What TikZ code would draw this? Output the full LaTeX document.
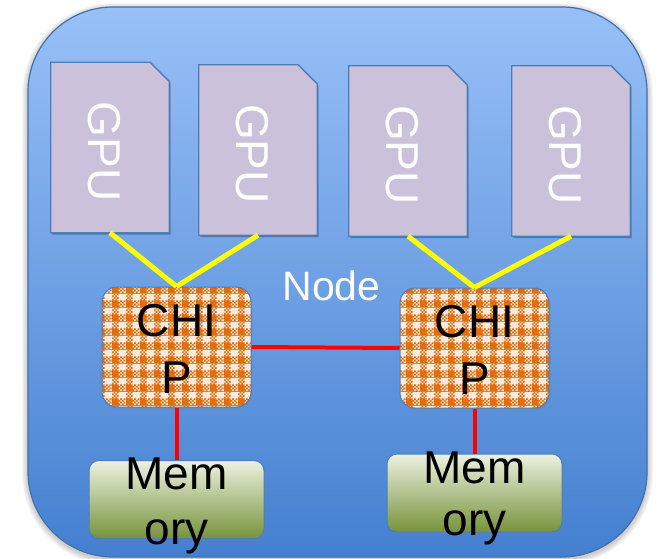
\documentclass[tikz,border=0pt]{standalone}
\usepackage{fontspec}
\setmainfont{Liberation Sans}
\usetikzlibrary{patterns,shadows}

\definecolor{frametop}{RGB}{152,192,247}
\definecolor{framebot}{RGB}{68,128,208}
\definecolor{frameline}{RGB}{66,112,172}
\definecolor{gpufill}{RGB}{204,193,218}
\definecolor{boxline}{RGB}{74,126,187}
\definecolor{chiporange}{RGB}{228,108,10}
\definecolor{chiplight}{RGB}{253,234,218}
\definecolor{memtop}{RGB}{236,241,224}
\definecolor{membot}{RGB}{119,147,60}
\definecolor{linkyellow}{RGB}{255,255,0}
\definecolor{linkred}{RGB}{255,0,0}

% one small check of the half-tone blocks
\newcommand\gsq[2]{\pgfpathrectangle{\pgfqpoint{#1pt}{#2pt}}{\pgfqpoint{1.75pt}{1.75pt}}}

% gingham tile: solid orange block, light block and two blocks of small checks
\pgfdeclarepatterninherentlycolored{gingham}
{\pgfpointorigin}{\pgfqpoint{14pt}{14pt}}{\pgfqpoint{14pt}{14pt}}
{%
  \pgfsetfillcolor{chiplight}%
  \pgfpathrectangle{\pgfpointorigin}{\pgfqpoint{14pt}{14pt}}%
  \pgfusepath{fill}%
  \pgfsetfillcolor{chiporange}%
  \pgfpathrectangle{\pgfpointorigin}{\pgfqpoint{7pt}{7pt}}%
  \gsq{7}{0}\gsq{10.5}{0}\gsq{8.75}{1.75}\gsq{12.25}{1.75}%
  \gsq{7}{3.5}\gsq{10.5}{3.5}\gsq{8.75}{5.25}\gsq{12.25}{5.25}%
  \gsq{0}{7}\gsq{3.5}{7}\gsq{1.75}{8.75}\gsq{5.25}{8.75}%
  \gsq{0}{10.5}\gsq{3.5}{10.5}\gsq{1.75}{12.25}\gsq{5.25}{12.25}%
  \pgfusepath{fill}%
}

\tikzset{
  softshadow/.style={drop shadow={shadow xshift=1.5pt,shadow yshift=-2pt,opacity=.3}},
  framebox/.style={rectangle, rounded corners=85pt, minimum width=619pt,
    minimum height=550pt, top color=frametop, bottom color=framebot,
    draw=frameline, line width=1.2pt},
  gpuslot/.style={rectangle, minimum width=118pt, minimum height=170pt,
    inner sep=0pt},
  gpuoutline/.style={fill=gpufill, draw=boxline, line width=1.3pt},
  gpulabel/.style={rotate=-90, text=white, inner sep=0pt,
    font=\fontsize{46}{55}\selectfont},
  chipbox/.style={rectangle, rounded corners=15pt, minimum width=149pt,
    minimum height=120pt, pattern=gingham, draw=boxline, line width=1pt,
    softshadow},
  membox/.style={rectangle, rounded corners=10pt, minimum width=175pt,
    minimum height=78pt, top color=memtop, bottom color=membot,
    draw=boxline, line width=1pt, softshadow},
  bigtext/.style={anchor=base, inner sep=0pt, text=black,
    font=\fontsize{46}{55}\selectfont},
  nodetext/.style={anchor=base, inner sep=0pt, text=white,
    font=\fontsize{41}{49}\selectfont},
  gpulink/.style={draw=linkyellow, line width=5pt},
  chiplink/.style={draw=linkred, line width=4pt}
}

% GPU card: rectangle with a cut upper right corner, drawn round a named slot
\newcommand\gpucard[1]{%
  \fill[black, opacity=.28]
    ([shift={(1.5pt,-2pt)}]#1.north west) -- ([shift={(-17.5pt,-2pt)}]#1.north east)
    -- ([shift={(1.5pt,-21pt)}]#1.north east) -- ([shift={(1.5pt,-2pt)}]#1.south east)
    -- ([shift={(1.5pt,-2pt)}]#1.south west) -- cycle;
  \filldraw[gpuoutline]
    (#1.north west) -- ([xshift=-19pt]#1.north east)
    -- ([yshift=-19pt]#1.north east) -- (#1.south east)
    -- (#1.south west) -- cycle;
  \node[gpulabel] (#1txt) at ([shift={(-6pt,-4pt)}]#1.center) {GPU};
}

\begin{document}
\begin{tikzpicture}[x=1pt, y=-1pt]
  \useasboundingbox (0,0) rectangle (659,559);

  % soft halo below the outer frame
  \foreach \g in {1,...,6}
    \fill[black, opacity=.035, rounded corners=85pt+\g pt]
      (28-\g, 9-\g) rectangle (647+\g, 559+\g);

  \node[framebox] (frame) at (337.5,282) {};

  % GPU cards
  \node[gpuslot] (g1) at (110,147.5) {};
  \node[gpuslot] (g2) at (258,150) {};
  \node[gpuslot] (g3) at (408,151) {};
  \node[gpuslot] (g4) at (571,151) {};
  \gpucard{g1}
  \gpucard{g2}
  \gpucard{g3}
  \gpucard{g4}

  % chips and memories
  \node[chipbox] (c1) at (176.5,347) {};
  \node[chipbox] (c2) at (474.5,348) {};
  \node[membox] (m1) at (176.5,499.5) {};
  \node[membox] (m2) at (474.5,493) {};

  % links
  \draw[gpulink] (g1.south) -- (c1.north);
  \draw[gpulink] (g2.south) -- (c1.north);
  \draw[gpulink] (g3.south) -- (c2.north);
  \draw[gpulink] (g4.south) -- (c2.north);
  \draw[chiplink] (c1.east) -- (c2.west);
  \draw[chiplink] (c1.south) -- (m1.north);
  \draw[chiplink] (c2.south) -- (m2.north);

  % labels
  \node[nodetext] (nodelabel) at (331.5,300) {Node};
  \node[bigtext] (c1a) at ([yshift=11pt]c1.center) {CHI};
  \node[bigtext] (c1b) at ([yshift=-46pt]c1.center) {P};
  \node[bigtext] (c2a) at ([yshift=11pt]c2.center) {CHI};
  \node[bigtext] (c2b) at ([yshift=-46pt]c2.center) {P};
  \node[bigtext] (m1a) at ([yshift=10.5pt]m1.center) {Mem};
  \node[bigtext] (m1b) at ([yshift=-44.5pt]m1.center) {ory};
  \node[bigtext] (m2a) at ([yshift=10pt]m2.center) {Mem};
  \node[bigtext] (m2b) at ([yshift=-42pt]m2.center) {ory};
\end{tikzpicture}
\end{document}
